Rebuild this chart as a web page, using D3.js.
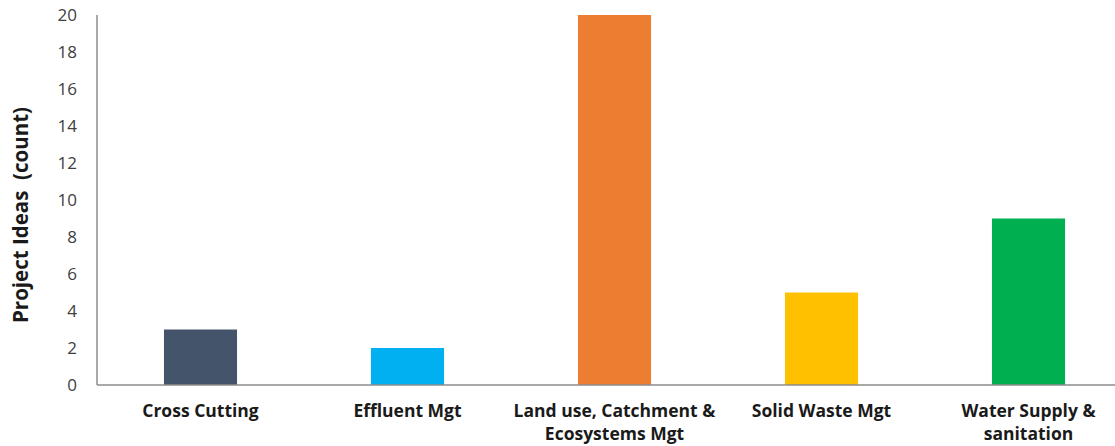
<!DOCTYPE html>
<html>
<head>
<meta charset="utf-8">
<script src="https://cdn.jsdelivr.net/npm/d3@7"></script>
<style>
body{margin:0;background:#fff;}
text{font-family:"Open Sans",sans-serif;}
</style>
</head>
<body>
<svg width="1115" height="446"></svg>
<script>
var categories = [["Cross Cutting"], ["Effluent Mgt"], ["Land use, Catchment &", "Ecosystems Mgt"], ["Solid Waste Mgt"], ["Water Supply &", "sanitation"]];
var values = [3, 2, 20, 5, 9];
var colors = ["#44546A", "#00B0F0", "#ED7D31", "#FFC000", "#00B050"];
var yTicks = [0, 2, 4, 6, 8, 10, 12, 14, 16, 18, 20];

var svg = d3.select("svg");
var x = d3.scaleBand().domain(d3.range(values.length)).range([97, 1132]);
var y = d3.scaleLinear().domain([0, 20]).range([385, 15]);
var bw = x.bandwidth() * 0.353;

svg.selectAll("rect").data(values).enter().append("rect")
	.attr("x", function(d, i){ return x(i) + x.bandwidth()/2 - bw/2; })
	.attr("y", function(d){ return y(d); })
	.attr("width", bw)
	.attr("height", function(d){ return y(0) - y(d); })
	.style("fill", function(d, i){ return colors[i]; });

// axes
svg.append("line").attr("x1", 97).attr("x2", 1115).attr("y1", y(0)).attr("y2", y(0))
	.style("stroke", "#8c8c8c").style("stroke-width", 1.5);
svg.append("line").attr("x1", 97).attr("x2", 97).attr("y1", y(20)).attr("y2", y(0))
	.style("stroke", "#8c8c8c").style("stroke-width", 1.5);

svg.selectAll(".ytick").data(yTicks).enter().append("text")
	.attr("class", "ytick")
	.attr("x", 77).attr("y", function(d){ return y(d); })
	.attr("dy", "0.35em").attr("text-anchor", "end")
	.style("font-size", "17px").style("fill", "#404040")
	.text(function(d){ return d; });

var labels = svg.selectAll(".xlab").data(categories).enter().append("text")
	.attr("class", "xlab")
	.attr("text-anchor", "middle")
	.style("font-size", "17.5px").style("font-weight", "bold").style("fill", "#1a1a1a");
labels.selectAll("tspan").data(function(d, i){ return d.map(function(s){ return {s:s, i:i}; }); })
	.enter().append("tspan")
	.attr("x", function(d){ return x(d.i) + x.bandwidth()/2; })
	.attr("y", function(d, j){ return 417 + j*23; })
	.text(function(d){ return d.s; });

svg.append("text")
	.attr("transform", "translate(28," + ((y(0) + y(20))/2 + 15) + ") rotate(-90)")
	.attr("text-anchor", "middle")
	.style("font-size", "20.5px").style("font-weight", "bold").style("fill", "#1a1a1a")
	.attr("xml:space", "preserve")
	.text("Project Ideas  (count)");
</script>
</body>
</html>
